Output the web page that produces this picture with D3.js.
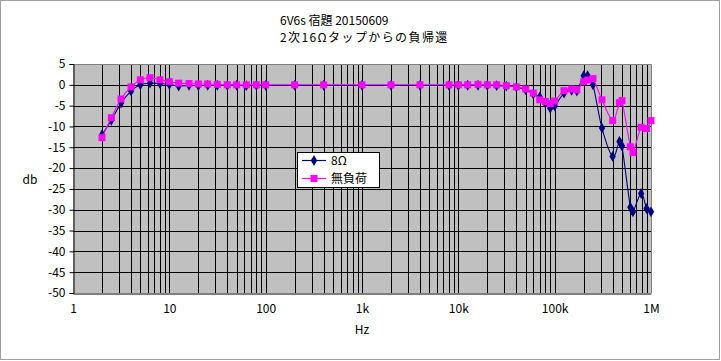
<!DOCTYPE html>
<html><head><meta charset="utf-8">
<script src="https://cdn.jsdelivr.net/npm/d3@7"></script>
<style>
body{margin:0;background:#fff;}
svg{display:block;}
text{font-family:"Noto Sans CJK JP","Noto Sans",sans-serif;font-size:12px;fill:#000;}
</style></head>
<body>
<svg id="c" width="721" height="361"></svg>
<script>
const freqs = [2, 2.5, 3.15, 4, 5, 6.3, 8, 10, 12.5, 16, 20, 25, 31.5, 40, 50, 63, 80, 100,
  200, 400, 1000, 2000, 4000, 8000,
  10000, 12500, 16000, 20000, 25000, 31500, 40000, 50000,
  60000, 70000, 80000, 90000, 100000,
  125000, 150000, 170000,
  200000, 220000, 250000,
  310000, 400000, 470000, 500000,
  610000, 650000, 790000, 900000, 1000000];
const load8 = [-12.0, -8.5, -4.4, -1.5, 0.0, 0.4, 0.3, 0.1, -0.3, -0.1, -0.2, -0.1, -0.1, -0.1, -0.1, -0.2, -0.1, -0.1,
  -0.1, -0.1, -0.1, -0.1, -0.1, -0.1,
  -0.1, -0.1, -0.1, -0.1, -0.2, -0.3, -0.5, -1.2,
  -2.2, -2.9, -4.4, -5.6, -5.1,
  -2.0, -1.3, -1.5,
  2.2, 2.2, 0.0,
  -10.4, -17.2, -13.6, -14.7,
  -29.4, -30.5, -26.1, -29.7, -30.5];
const noLoad = [-12.7, -7.9, -3.4, -0.5, 1.2, 1.7, 1.2, 0.75, 0.4, 0.3, 0.2, 0.2, 0.1, 0.0, 0.0, 0.0, 0.0, 0.0,
  0.0, 0.0, 0.0, 0.0, 0.0, 0.0,
  0.0, 0.0, 0.1, 0.0, 0.0, -0.2, -0.5, -1.0,
  -2.0, -3.6, -4.0, -4.5, -3.9,
  -1.4, -1.0, -1.2,
  0.75, 1.15, 1.5,
  -3.6, -8.6, -4.3, -3.8,
  -14.9, -16.3, -10.2, -10.5, -8.6];
const seriesNames = ["8Ω", "無負荷"];
const xTickVals = [1, 10, 100, 1000, 10000, 100000, 1000000];
const xTickLabels = ["1", "10", "100", "1k", "10k", "100k", "1M"];
const yTicks = [5, 0, -5, -10, -15, -20, -25, -30, -35, -40, -45, -50];
const titleLines = ["6V6s 宿題 20150609", "2次16Ωタップからの負帰還"];

const svg = d3.select("#c");
const x = d3.scaleLog().domain([1, 1e6]).range([73, 651]);
const y = d3.scaleLinear().domain([-50, 5]).range([293, 64]);

// chart border
svg.append("rect").attr("x", 0.5).attr("y", 0.5).attr("width", 719).attr("height", 359)
  .attr("fill", "#fff").attr("stroke", "#a0a0a0");

// plot area
svg.append("rect").attr("x", x(1)).attr("y", y(5)).attr("width", x(1e6) - x(1)).attr("height", y(-50) - y(5))
  .attr("fill", "#c0c0c0");

// vertical gridlines (major + minor)
const vGrid = [];
for (let d = 1; d < 1e6; d *= 10) for (let m = 1; m <= 9; m++) if (m * d > 1) vGrid.push(m * d);
svg.append("g").selectAll("line").data(vGrid).join("line")
  .attr("x1", d => Math.round(x(d)) + 0.5).attr("x2", d => Math.round(x(d)) + 0.5)
  .attr("y1", y(5)).attr("y2", y(-50)).attr("stroke", "#000").attr("stroke-width", 1);
// horizontal gridlines
svg.append("g").selectAll("line").data(yTicks.filter(v => v > -50 && v < 5)).join("line")
  .attr("x1", x(1)).attr("x2", x(1e6))
  .attr("y1", d => Math.round(y(d)) + 0.5).attr("y2", d => Math.round(y(d)) + 0.5)
  .attr("stroke", "#000");

// plot border top/right gray
svg.append("path").attr("d", `M${x(1)},${y(5) + 0.5}H${x(1e6) + 0.5}V${y(-50)}`)
  .attr("fill", "none").attr("stroke", "#808080");

// axes
const yAxis = svg.append("g").attr("transform", `translate(${x(1) + 0.5},0)`)
  .call(d3.axisLeft(y).tickValues(yTicks).tickSize(4).tickPadding(4).tickFormat(d => String(d).replace("−", "-")));
yAxis.select(".domain").attr("stroke", "#000");
yAxis.selectAll("text").style("font-size", "12px").attr("fill", "#000");
const xAxis = svg.append("g").attr("transform", `translate(0,${y(-50) + 0.5})`)
  .call(d3.axisBottom(x).tickValues(xTickVals).tickSize(0).tickPadding(11)
    .tickFormat((d, i) => xTickLabels[i]));
xAxis.select(".domain").attr("stroke", "#000");
xAxis.selectAll("text").style("font-size", "12px").attr("fill", "#000");

// axis titles
svg.append("text").attr("x", 30).attr("y", 184).attr("text-anchor", "middle").text("db");
svg.append("text").attr("x", 362).attr("y", 334).attr("text-anchor", "middle").text("Hz");

// title
svg.append("g").selectAll("text").data(titleLines).join("text")
  .attr("x", 280).attr("y", (d, i) => 25 + i * 17)
  .style("letter-spacing", (d, i) => i === 1 ? "1.4px" : "0px")
  .text(d => d);

// series
const line = d3.line().x(d => x(d[0])).y(d => y(d[1])).curve(d3.curveCatmullRom.alpha(0));
const d8 = freqs.map((f, i) => [f, load8[i]]);
const dn = freqs.map((f, i) => [f, noLoad[i]]);
svg.append("path").datum(d8).attr("d", line).attr("fill", "none").attr("stroke", "#000080").attr("stroke-width", 1.1);
svg.append("g").selectAll("path").data(d8).join("path")
  .attr("d", d3.symbol(d3.symbolDiamond, 34))
  .attr("transform", d => `translate(${x(d[0])},${y(d[1])})`)
  .attr("fill", "#000080");
svg.append("path").datum(dn).attr("d", line).attr("fill", "none").attr("stroke", "#ff00ff").attr("stroke-width", 1.1);
svg.append("g").selectAll("rect").data(dn).join("rect")
  .attr("x", d => x(d[0]) - 3.5).attr("y", d => y(d[1]) - 3.5).attr("width", 7).attr("height", 7)
  .attr("fill", "#ff00ff");

// legend
const lg = svg.append("g");
lg.append("rect").attr("x", 297.5).attr("y", 152.5).attr("width", 82).attr("height", 35)
  .attr("fill", "#fff").attr("stroke", "#000");
const rows = [{name: seriesNames[0], c: "#000080", sym: "d", cy: 160.5}, {name: seriesNames[1], c: "#ff00ff", sym: "s", cy: 178.5}];
rows.forEach(r => {
  lg.append("line").attr("x1", 302).attr("x2", 326).attr("y1", r.cy).attr("y2", r.cy).attr("stroke", r.c).attr("stroke-width", 1.2);
  if (r.sym === "d") lg.append("path").attr("d", d3.symbol(d3.symbolDiamond, 34)).attr("transform", `translate(314,${r.cy})`).attr("fill", r.c);
  else lg.append("rect").attr("x", 310.5).attr("y", r.cy - 3.5).attr("width", 7).attr("height", 7).attr("fill", r.c);
  lg.append("text").attr("x", 331).attr("y", r.cy + 4.5).text(r.name);
});
</script>
</body></html>
